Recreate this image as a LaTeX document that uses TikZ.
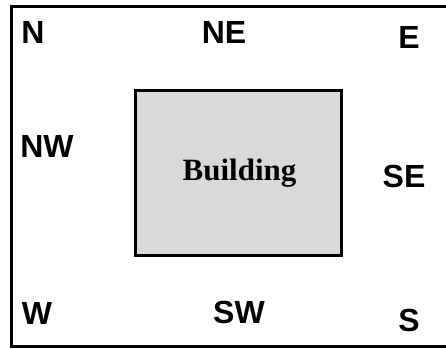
\documentclass[tikz,border=0pt]{standalone}
\usepackage{fontspec}
\setmainfont{Liberation Serif}
\newfontfamily\labelfont{Liberation Sans}
\tikzset{
  dirlabel/.style={anchor=base, inner sep=0pt, font=\labelfont\bfseries\fontsize{32}{32}\selectfont},
  bldlabel/.style={anchor=base, inner sep=0pt, font=\bfseries\fontsize{31}{31}\selectfont},
  frameline/.style={line width=3pt, draw=black},
  buildingbox/.style={line width=3pt, draw=black, fill=black!15},
}
\begin{document}
\begin{tikzpicture}[x=1pt,y=-1pt]
\useasboundingbox (0,0) rectangle (446,348);
\coordinate (ftr) at (446,6);
\coordinate (ftl) at (11.5,6);
\coordinate (fbl) at (11.5,346);
\coordinate (fbr) at (446,346);
\draw[frameline] (ftr) -- (ftl) -- (fbl) -- (fbr);
\draw[buildingbox] (135,90) rectangle (341,255);
\node[bldlabel] (bld) at (239.5,180) {Building};
\node[dirlabel] (n) at (33,43) {N};
\node[dirlabel] (ne) at (224,43) {NE};
\node[dirlabel] (e) at (409,48) {E};
\node[dirlabel] (nw) at (47,157) {NW};
\node[dirlabel] (se) at (404,187) {SE};
\node[dirlabel] (w) at (37,324) {W};
\node[dirlabel] (sw) at (239,323) {SW};
\node[dirlabel] (s) at (409,331) {S};
\end{tikzpicture}
\end{document}
